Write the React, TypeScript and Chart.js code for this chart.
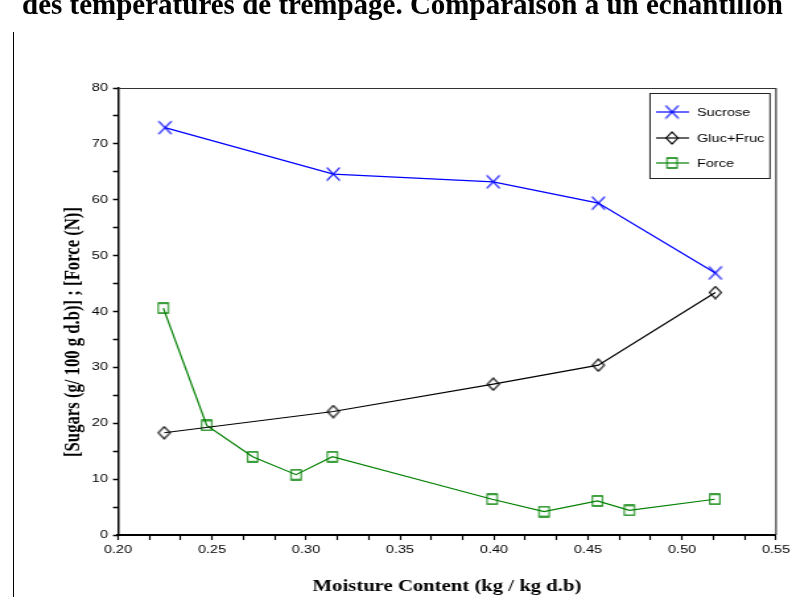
import React, { useEffect, useRef } from "react";
import { Chart, registerables } from "chart.js";

Chart.register(...registerables);

// ---- data ----
const SUCROSE_X = [0.225, 0.3145, 0.3996, 0.4555, 0.5177];
const SUCROSE_Y = [72.9, 64.6, 63.2, 59.4, 46.9];

const GLUCFRUC_X = [0.2246, 0.3145, 0.3996, 0.4555, 0.5177];
const GLUCFRUC_Y = [18.3, 22.1, 27.0, 30.4, 43.4];

const FORCE_X = [0.2241, 0.2472, 0.2716, 0.2947, 0.314, 0.399, 0.4266, 0.455, 0.472, 0.5174];
const FORCE_Y = [40.6, 19.6, 14.0, 10.8, 14.0, 6.4, 4.2, 6.1, 4.4, 6.4];

const X_LABELS = ["0.20", "0.25", "0.30", "0.35", "0.40", "0.45", "0.50", "0.55"];
const Y_LABELS = ["0", "10", "20", "30", "40", "50", "60", "70", "80"];
const X_MINOR_PER_MAJOR = 3;
const Y_MINOR_PER_MAJOR = 2;

const SERIES_NAMES = ["Sucrose", "Gluc+Fruc", "Force"];
const SERIES_COLORS = ["#0000ff", "#000000", "#008000"];
const SERIES_MARKERS = ["cross", "diamond", "square"];

const X_TITLE = "Moisture Content (kg / kg d.b)";
const Y_TITLE = "[Sugars (g/ 100 g d.b)] ; [Force (N)]";
const PAGE_TITLE = "des températures de trempage. Comparaison à un échantillon";

// ---- layout ----
const S = 1.32; // horizontal stretch of the whole drawing
const W = 792 / S;
const H = 597;
const SANS = "'Liberation Sans', Arial, sans-serif";
const SERIF = "'Liberation Serif', 'Times New Roman', serif";

function makeMarker(kind: string, color: string): HTMLCanvasElement {
  const size = kind === "cross" ? 15 : kind === "diamond" ? 14 : 12;
  const c = document.createElement("canvas");
  const cw = Math.ceil(size / S) + 1;
  const ch = size;
  c.width = cw;
  c.height = ch;
  const ctx = c.getContext("2d")!;
  ctx.scale(1 / S, 1);
  ctx.translate((cw * S) / 2, ch / 2);
  ctx.strokeStyle = color;
  ctx.lineWidth = 1.3;
  ctx.beginPath();
  if (kind === "cross") {
    const h = 6.5;
    ctx.moveTo(-h, -h);
    ctx.lineTo(h, h);
    ctx.moveTo(h, -h);
    ctx.lineTo(-h, h);
  } else if (kind === "diamond") {
    const h = 6;
    ctx.moveTo(0, -h);
    ctx.lineTo(h, 0);
    ctx.lineTo(0, h);
    ctx.lineTo(-h, 0);
    ctx.closePath();
  } else {
    const h = 5;
    ctx.rect(-h, -h, 2 * h, 2 * h);
  }
  ctx.stroke();
  return c;
}

function buildTickValues(labels: string[], minorPer: number): number[] {
  const vals: number[] = [];
  for (let i = 0; i < labels.length; i++) {
    const v = parseFloat(labels[i]);
    vals.push(v);
    if (i < labels.length - 1) {
      const next = parseFloat(labels[i + 1]);
      for (let k = 1; k < minorPer; k++) vals.push(v + ((next - v) * k) / minorPer);
    }
  }
  return vals;
}

export default function App() {
  const ref = useRef<HTMLCanvasElement | null>(null);

  useEffect(() => {
    const canvas = ref.current;
    if (!canvas) return;
    const markers = SERIES_MARKERS.map((m, i) => makeMarker(m, SERIES_COLORS[i]));
    const xs = [SUCROSE_X, GLUCFRUC_X, FORCE_X];
    const ys = [SUCROSE_Y, GLUCFRUC_Y, FORCE_Y];
    const xTicks = buildTickValues(X_LABELS, X_MINOR_PER_MAJOR);
    const yTicks = buildTickValues(Y_LABELS, Y_MINOR_PER_MAJOR);

    const plotLeft = 118 / S;
    const plotRight = 776 / S;

    const decor = {
      id: "decor",
      afterDraw(chart: any) {
        const ctx = chart.ctx as CanvasRenderingContext2D;
        const a = chart.chartArea;
        ctx.save();
        // frame top and right
        ctx.strokeStyle = "#333";
        ctx.lineWidth = 1;
        ctx.beginPath();
        ctx.moveTo(a.left, a.top + 0.5);
        ctx.lineTo(a.right, a.top + 0.5);
        ctx.stroke();
        ctx.lineWidth = 1.2;
        ctx.beginPath();
        ctx.moveTo(a.right, a.top);
        ctx.lineTo(a.right, a.bottom);
        ctx.stroke();

        // legend
        const bx = 650 / S, bw = 120 / S, by = 93.5, bh = 85;
        ctx.fillStyle = "#fff";
        ctx.fillRect(bx, by, bw, bh);
        ctx.strokeStyle = "#222";
        ctx.lineWidth = 1;
        ctx.strokeRect(bx, by, bw, bh);
        const rows = [112, 138, 163];
        ctx.font = `11px ${SANS}`;
        ctx.textBaseline = "middle";
        ctx.textAlign = "left";
        SERIES_NAMES.forEach((name, i) => {
          const y = rows[i];
          ctx.strokeStyle = SERIES_COLORS[i];
          ctx.lineWidth = 1.2;
          ctx.beginPath();
          ctx.moveTo(656 / S, y);
          ctx.lineTo(689 / S, y);
          ctx.stroke();
          const m = markers[i];
          ctx.drawImage(m, 672 / S - m.width / 2, y - m.height / 2);
          ctx.fillStyle = "#000";
          ctx.fillText(name, 697 / S, y + 0.5);
        });

        // axis titles
        ctx.fillStyle = "#000";
        ctx.font = `bold 15.7px ${SERIF}`;
        ctx.textAlign = "center";
        ctx.textBaseline = "middle";
        ctx.fillText(X_TITLE, (a.left + a.right) / 2, 587);
        ctx.translate(73 / S, 332);
        ctx.rotate(-Math.PI / 2);
        ctx.font = `bold 16.7px ${SERIF}`;
        ctx.fillText(Y_TITLE, 0, 0);
        ctx.restore();
      },
    };

    const chart = new Chart(canvas, {
      type: "line",
      data: {
        datasets: SERIES_NAMES.map((name, i) => ({
          label: name,
          data: xs[i].map((x, j) => ({ x, y: ys[i][j] })),
          borderColor: SERIES_COLORS[i],
          backgroundColor: SERIES_COLORS[i],
          borderWidth: 1.2,
          tension: 0,
          pointStyle: markers[i] as any,
          pointRadius: 6,
          fill: false,
        })),
      },
      options: {
        responsive: false,
        animation: false,
        devicePixelRatio: 1,
        layout: { padding: { top: 88, right: W - plotRight, left: 0, bottom: 0 } },
        plugins: {
          legend: { display: false },
          tooltip: { enabled: false },
          title: { display: false },
        },
        scales: {
          x: {
            type: "linear",
            min: 0.2,
            max: 0.55,
            afterBuildTicks: (s: any) => {
              s.ticks = xTicks.map((v) => ({ value: v }));
            },
            afterFit: (s: any) => {
              s.height = H - 535;
              s.paddingLeft = 0;
              s.paddingRight = 0;
            },
            ticks: {
              autoSkip: false,
              maxRotation: 0,
              minRotation: 0,
              padding: 3,
              color: "#000",
              font: { family: SANS, size: 11 },
              callback: (_v: any, i: number) =>
                i % X_MINOR_PER_MAJOR === 0 ? X_LABELS[i / X_MINOR_PER_MAJOR] : "",
            },
            grid: {
              drawOnChartArea: false,
              drawTicks: true,
              tickLength: 5,
              tickColor: "#000",
              tickWidth: 1.2,
            },
            border: { display: true, color: "#000", width: 2 },
          },
          y: {
            type: "linear",
            min: 0,
            max: 80,
            afterBuildTicks: (s: any) => {
              s.ticks = yTicks.map((v) => ({ value: v }));
            },
            afterFit: (s: any) => {
              s.width = plotLeft;
              s.paddingTop = 0;
              s.paddingBottom = 0;
            },
            ticks: {
              autoSkip: false,
              padding: 3.8,
              color: "#000",
              font: { family: SANS, size: 11 },
              callback: (_v: any, i: number) =>
                i % Y_MINOR_PER_MAJOR === 0 ? Y_LABELS[i / Y_MINOR_PER_MAJOR] : "",
            },
            grid: {
              drawOnChartArea: false,
              drawTicks: true,
              tickLength: 3.8,
              tickColor: "#000",
              tickWidth: 1.5,
            },
            border: { display: true, color: "#000", width: 1.5 },
          },
        },
      },
      plugins: [decor],
    } as any);

    return () => chart.destroy();
  }, []);

  return (
    <>
      <div
        style={{
          position: "fixed",
          left: 0,
          top: 0,
          width: W,
          height: H,
          overflow: "hidden",
          transform: `scaleX(${S})`,
          transformOrigin: "0 0",
        }}
      >
        <canvas
          ref={ref}
          width={W}
          height={H}
          style={{ position: "absolute", left: 0, top: 0, width: W, height: H }}
        />
      </div>
      <div
        style={{
          position: "fixed",
          left: 13,
          top: 32,
          width: 1,
          height: H - 32,
          background: "#000",
        }}
      />
      <div
        style={{
          position: "fixed",
          left: 22,
          top: -10.3,
          whiteSpace: "nowrap",
          fontFamily: SERIF,
          fontWeight: "bold",
          fontSize: 29,
          lineHeight: "29px",
          color: "#000",
        }}
      >
        {PAGE_TITLE}
      </div>
    </>
  );
}
